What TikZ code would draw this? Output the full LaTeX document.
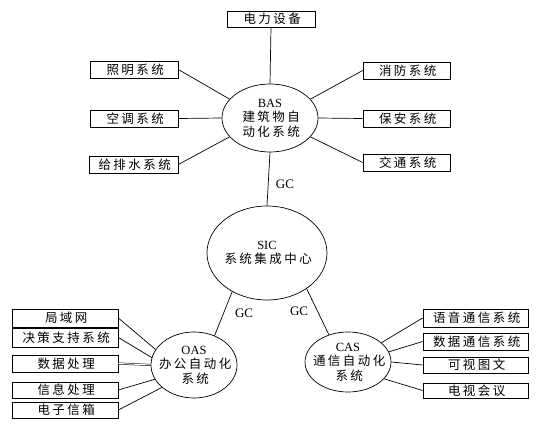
\documentclass[tikz,border=0pt]{standalone}
\usepackage{fontspec}
\setmainfont{Liberation Serif}
\newfontfamily\cjk[LetterSpace=20]{Noto Sans CJK SC}
\usetikzlibrary{shapes.geometric}
\newcommand{\cl}[1]{{\cjk\kern2.5pt #1}}
\tikzset{
  box/.style={draw, line width=0.7pt, inner sep=0pt, font=\cjk\fontsize{12.5}{13}\selectfont, execute at begin node={\kern2.5pt}},
  oval/.style={draw, ellipse, line width=0.7pt, inner sep=0pt},
  ovaltext/.style={align=center, inner sep=0pt, font=\fontsize{12.5}{14.5}\selectfont},
  link/.style={line width=0.7pt},
  gc/.style={font=\fontsize{13}{14}\selectfont}
}
\begin{document}
\begin{tikzpicture}[x=1pt,y=-1pt]
\useasboundingbox (0,0) rectangle (552,428);
% ellipses
\node[oval, minimum width=96, minimum height=68] (bas) at (270,118) {};
\node[ovaltext] (bast) at (bas.center) {BAS\\\cl{建筑物自}\\\cl{动化系统}};
\node[oval, minimum width=120, minimum height=94] (sic) at (267,253) {};
\node[ovaltext] (sict) at (sic.center) {SIC\\\cl{系统集成中心}};
\node[oval, minimum width=86, minimum height=66] (oas) at (194,365) {};
\node[ovaltext] (oast) at (oas.center) {OAS\\\cl{办公自动化}\\\cl{系统}};
\node[oval, minimum width=86, minimum height=60] (cas) at (348,362) {};
\node[ovaltext] (cast) at (cas.center) {CAS\\\cl{通信自动化}\\\cl{系统}};
% BAS boxes
\node[box, minimum width=88, minimum height=16] (b1) at (271,19) {电力设备};
\node[box, minimum width=88, minimum height=17] (b2) at (134,69.5) {照明系统};
\node[box, minimum width=88, minimum height=17] (b3) at (134,118.5) {空调系统};
\node[box, minimum width=89, minimum height=17] (b4) at (133.5,164.5) {给排水系统};
\node[box, minimum width=87, minimum height=17] (b5) at (406.5,70.5) {消防系统};
\node[box, minimum width=87, minimum height=17] (b6) at (406.5,118.5) {保安系统};
\node[box, minimum width=87, minimum height=17] (b7) at (406.5,162.5) {交通系统};
% OAS boxes
\node[box, minimum width=106, minimum height=18] (o1) at (65,318) {局域网};
\node[box, minimum width=106, minimum height=19] (o2) at (65,337.5) {决策支持系统};
\node[box, minimum width=106, minimum height=17] (o3) at (65,363.5) {数据处理};
\node[box, minimum width=106, minimum height=16] (o4) at (65,390) {信息处理};
\node[box, minimum width=106, minimum height=16] (o5) at (65,410) {电子信箱};
% CAS boxes
\node[box, minimum width=105, minimum height=18] (c1) at (475.5,318) {语音通信系统};
\node[box, minimum width=105, minimum height=17] (c2) at (475.5,341.5) {数据通信系统};
\node[box, minimum width=105, minimum height=16] (c3) at (475.5,365) {可视图文};
\node[box, minimum width=105, minimum height=15] (c4) at (475.5,390.5) {电视会议};
% BAS links
\draw[link] (b1.south) -- (bas.north);
\draw[link] (b2.east) -- (bas.155);
\draw[link] (b3.east) -- (bas.west);
\draw[link] (b4.east) -- (bas.205);
\draw[link] (b5.west) -- (bas.25);
\draw[link] (b6.west) -- (bas.east);
\draw[link] (b7.west) -- (bas.335);
% GC links
\draw[link] (bas.south) -- (sic.north) node[gc, pos=0.6, right=4pt] {GC};
\draw[link] (oas.55) -- (sic.228) node[gc, pos=0.5, right=8pt] {GC};
\draw[link] (cas.125) -- (sic.318) node[gc, pos=0.5, left=6pt] {GC};
% OAS links
\draw[link] (o1.east) -- (oas.158);
\draw[link] (o2.east) -- (oas.170);
\draw[link, double, double distance=1pt, line width=0.5pt] (o3.east) -- (oas.west);
\draw[link] (o4.east) -- (oas.200);
\draw[link] (o5.east) -- (oas.215);
% CAS links
\draw[link] (c1.west) -- (cas.30);
\draw[link] (c2.west) -- (cas.14);
\draw[link] (c3.west) -- (cas.east);
\draw[link] (c4.west) -- (cas.335);
\end{tikzpicture}
\end{document}
